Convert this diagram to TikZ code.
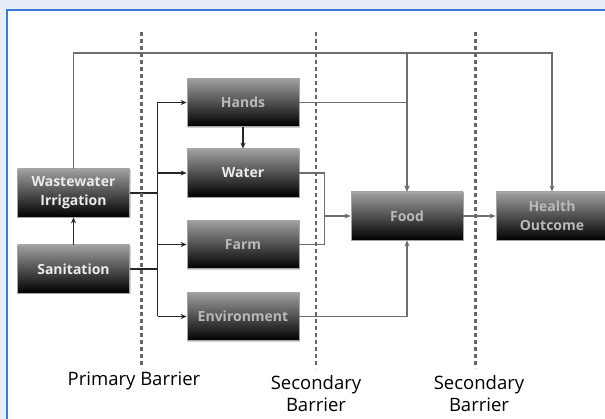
\documentclass[tikz,border=0pt]{standalone}
\usepackage{fontspec}
\setmainfont{Open Sans}
\usetikzlibrary{arrows.meta,shadows}
\definecolor{pagebg}{RGB}{231,237,249}
\definecolor{framecol}{RGB}{58,123,213}
\definecolor{linkcol}{RGB}{110,110,110}

\begin{document}
\begin{tikzpicture}[x=1pt, y=-1pt, >={Stealth[length=6pt,width=5pt]},
	box/.style={rectangle, draw=gray!70, line width=0.8pt, top color=gray!75, bottom color=black,
		minimum width=112pt, minimum height=48pt, inner sep=1pt, align=center,
		font=\fontsize{14}{19}\selectfont\bfseries,
		drop shadow={opacity=0.35, shadow xshift=1pt, shadow yshift=-1.5pt}},
	wtxt/.style={text=white!92!black},
	gtxt/.style={text=gray!55},
	link/.style={draw=linkcol, line width=1.2pt},
	trunk/.style={draw=black!85, line width=1.7pt},
	barrier/.style={draw=black!60, line width=2.2pt, dash pattern=on 4pt off 3pt},
	lbl/.style={align=center, font=\fontsize{18.5}{22}\selectfont}]
		\clip (0,0) rectangle (605,419);
		\useasboundingbox (0,0) rectangle (605,419);
		% page and frame
		\fill[pagebg] (0,0) rectangle (605,419);
		\draw[framecol, line width=2.5pt, fill=white] (7,10) rectangle (640,460);
		% boxes
		\node[box,wtxt] (ww) at (73.5,193) {Wastewater\\Irrigation};
		\node[box,wtxt] (san) at (73.5,269) {Sanitation};
		\node[box,gtxt] (hands) at (243,102.5) {Hands};
		\node[box,wtxt] (water) at (243,173) {Water};
		\node[box,gtxt] (farm) at (243,244.5) {Farm};
		\node[box,gtxt] (env) at (243,316.5) {Environment};
		\node[box,gtxt] (food) at (407,216) {Food};
		\node[box,gtxt] (health) at (552,216) {Health\\Outcome};
		\coordinate (bus) at (157.5,0);
		\coordinate (top) at (0,53);
		\coordinate (wf) at (324.5,0);
		% primary routes
		\draw[trunk] (ww.east) -- (ww.east -| bus);
		\draw[trunk] (san.east) -- (san.east -| bus);
		\draw[trunk] (hands.west -| bus) -- (env.west -| bus);
		\foreach \n in {hands,water,farm,env}
			\draw[trunk,->] (\n.west -| bus) -- (\n.west);
		\draw[trunk,->] (san.north) -- (ww.south);
		\draw[trunk,->] (hands.south) -- (water.north);
		% secondary routes
		\draw[link,->] (ww.north) |- (top -| health.north) -- (health.north);
		\draw[link,->] (top -| food.north) -- (food.north);
		\draw[link,->] (hands.east) -| (food.north);
		\draw[link,->] (env.east) -| (food.south);
		\draw[link] (water.east) -- (water.east -| wf) -- (farm.east -| wf) -- (farm.east);
		\draw[link,->] (food.west -| wf) -- (food.west);
		\draw[link,->] (food.east) -- (health.west);
		% barriers
		\foreach \x in {141.5,316,475.5}
			\draw[barrier] (\x,32) -- (\x,368);
		\node[lbl] (pb) at (134,381) {Primary Barrier};
		\node[lbl] (sb1) at (316,394) {Secondary\\Barrier};
		\node[lbl] (sb2) at (479,394) {Secondary\\Barrier};
\end{tikzpicture}
\end{document}
